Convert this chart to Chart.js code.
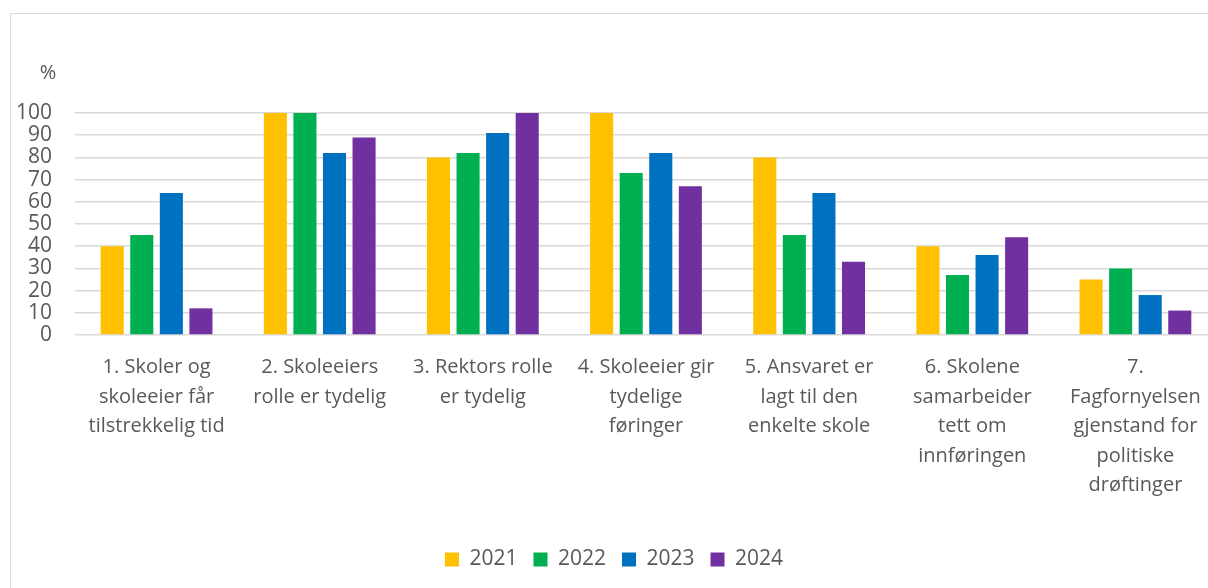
<!DOCTYPE html>
<html>
<head>
<meta charset="utf-8">
<script src="https://cdn.jsdelivr.net/npm/chart.js@4/dist/chart.umd.min.js"></script>
<style>
    html, body { margin: 0; padding: 0; background: #fff; overflow: hidden; }
    .chart-box {
        position: absolute; left: 10px; top: 13px;
        width: 1214px; height: 574px;
        border-left: 1px solid #d9d9d9; border-top: 1px solid #d9d9d9;
    }
</style>
</head>
<body>
<div class="chart-box"><canvas id="chart"></canvas></div>
<script>
const categories = [
    ['1. Skoler og', 'skoleeier får', 'tilstrekkelig tid'],
    ['2. Skoleeiers', 'rolle er tydelig'],
    ['3. Rektors rolle', 'er tydelig'],
    ['4. Skoleeier gir', 'tydelige', 'føringer'],
    ['5. Ansvaret er', 'lagt til den', 'enkelte skole'],
    ['6. Skolene', 'samarbeider', 'tett om', 'innføringen'],
    ['7.', 'Fagfornyelsen', 'gjenstand for', 'politiske', 'drøftinger']
];
const years = ['2021', '2022', '2023', '2024'];
const values2021 = [40, 100, 80, 100, 80, 40, 25];
const values2022 = [45, 100, 82, 73, 45, 27, 30];
const values2023 = [64, 82, 91, 82, 64, 36, 18];
const values2024 = [12, 89, 100, 67, 33, 44, 11];
const yTicks = [0, 10, 20, 30, 40, 50, 60, 70, 80, 90, 100];

const colors = ['#FFC000', '#00B050', '#0070C0', '#7030A0'];
const series = [values2021, values2022, values2023, values2024];
const textColor = '#595959';
const fontFamily = '"Open Sans", "Liberation Sans", sans-serif';

// draws the "%" unit above the value axis
const unitLabel = {
    id: 'unitLabel',
    afterDraw(chart) {
        const ctx = chart.ctx;
        ctx.save();
        ctx.font = '20px ' + fontFamily;
        ctx.fillStyle = textColor;
        ctx.textAlign = 'center';
        ctx.textBaseline = 'middle';
        ctx.fillText('%', chart.scales.y.right - 27, chart.chartArea.top - 40);
        ctx.restore();
    }
};

new Chart(document.getElementById('chart'), {
    type: 'bar',
    data: {
        labels: categories,
        datasets: years.map((year, i) => ({
            label: year,
            data: series[i],
            backgroundColor: colors[i],
            borderWidth: 0,
            categoryPercentage: 0.725,
            barPercentage: 0.78
        }))
    },
    options: {
        responsive: true,
        maintainAspectRatio: false,
        animation: false,
        layout: { padding: { top: 99, right: 8, bottom: 8, left: 0 } },
        scales: {
            x: {
                grid: { display: false, drawTicks: false },
                border: { display: false },
                ticks: {
                    color: textColor,
                    font: { family: fontFamily, size: 20, lineHeight: 1.475 },
                    padding: 18,
                    maxRotation: 0,
                    autoSkip: false
                },
                afterFit(scale) { scale.height = 198; }
            },
            y: {
                min: 0,
                max: 100,
                afterBuildTicks(scale) { scale.ticks = yTicks.map(v => ({ value: v })); },
                grid: { color: '#d9d9d9', lineWidth: 1.5, drawTicks: false },
                border: { display: false },
                ticks: {
                    color: textColor,
                    font: { family: fontFamily, size: 21, lineHeight: 1 },
                    padding: 23,
                    autoSkip: false
                },
                afterFit(scale) { scale.width = 64; }
            }
        },
        plugins: {
            legend: {
                position: 'bottom',
                labels: {
                    color: textColor,
                    font: { family: fontFamily, size: 21 },
                    boxWidth: 14,
                    boxHeight: 14,
                    padding: 16
                }
            },
            tooltip: { enabled: false }
        }
    },
    plugins: [unitLabel]
});
</script>
</body>
</html>
